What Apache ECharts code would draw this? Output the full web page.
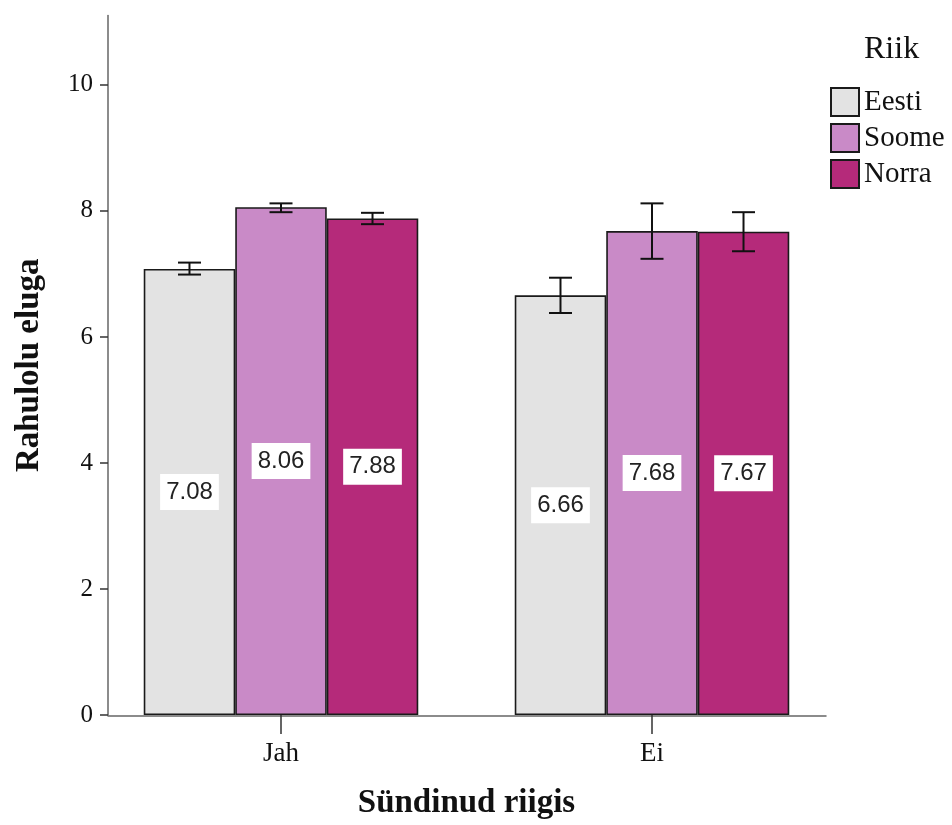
<!DOCTYPE html>
<html>
<head>
<meta charset="utf-8">
<script src="https://cdn.jsdelivr.net/npm/echarts@6/dist/echarts.min.js"></script>
<style>html,body{margin:0;padding:0;background:#fff}#c{width:952px;height:825px}</style>
</head>
<body>
<div id="c"></div>
<script>
const categories = ['Jah', 'Ei'];
const seriesNames = ['Eesti', 'Soome', 'Norra'];
const eesti = [7.08, 6.66];
const soome = [8.06, 7.68];
const norra = [7.88, 7.67];
const eestiLow = [6.99, 6.38];
const eestiHigh = [7.18, 6.94];
const soomeLow = [7.98, 7.24];
const soomeHigh = [8.12, 8.12];
const norraLow = [7.79, 7.36];
const norraHigh = [7.97, 7.98];
const yTicks = [0, 2, 4, 6, 8, 10];

const colors = ['#e3e3e3', '#c98ac7', '#b52a7a'];
const values = [eesti, soome, norra];
const lows = [eestiLow, soomeLow, norraLow];
const highs = [eestiHigh, soomeHigh, norraHigh];
const CAT_GAP = 0.26;
const serif = 'Liberation Serif';

const chart = echarts.init(document.getElementById('c'));

const barSeries = seriesNames.map((n, k) => ({
  name: n,
  type: 'bar',
  xAxisIndex: 0, yAxisIndex: 0,
  data: values[k],
  barGap: '0%',
  barCategoryGap: (CAT_GAP * 100) + '%',
  itemStyle: { color: colors[k], borderColor: '#1a1a1a', borderWidth: 1.6 },
  label: {
    show: true, position: 'inside',
    formatter: p => p.value.toFixed(2),
    backgroundColor: '#fff', color: '#222',
    fontFamily: 'Liberation Sans', fontSize: 24,
    padding: [6, 6]
  },
  emphasis: { disabled: true },
  z: 2
}));

const errSeries = seriesNames.map((n, k) => ({
  name: n + ' CI',
  type: 'custom',
  xAxisIndex: 0, yAxisIndex: 0,
  data: categories.map((c, i) => [i, lows[k][i], highs[k][i]]),
  encode: { x: 0, y: [1, 2] },
  z: 5,
  silent: true,
  renderItem: function (params, api) {
    const cat = api.value(0);
    const lo = api.coord([cat, api.value(1)]);
    const hi = api.coord([cat, api.value(2)]);
    const band = api.size([1, 0])[0];
    const bw = band * (1 - CAT_GAP) / 3;
    const x = lo[0] + (k - 1) * bw;
    const half = 11.5;
    const st = { stroke: '#111', lineWidth: 2 };
    return {
      type: 'group',
      children: [
        { type: 'line', shape: { x1: x, y1: lo[1], x2: x, y2: hi[1] }, style: st },
        { type: 'line', shape: { x1: x - half, y1: lo[1], x2: x + half, y2: lo[1] }, style: st },
        { type: 'line', shape: { x1: x - half, y1: hi[1], x2: x + half, y2: hi[1] }, style: st }
      ]
    };
  }
}));

const option = {
  backgroundColor: '#fff',
  animation: false,
  title: {
    text: 'Riik', left: 859, top: 29,
    textStyle: { fontFamily: serif, fontSize: 32, fontWeight: 'normal', color: '#111' }
  },
  legend: {
    data: seriesNames,
    orient: 'vertical', left: 830, top: 87,
    padding: 0,
    itemWidth: 28, itemHeight: 28, itemGap: 6,
    icon: 'rect',
    selectedMode: false,
    textStyle: { fontFamily: serif, fontSize: 29, color: '#111', lineHeight: 28 }
  },
  grid: [
    { left: 95.5, right: 114.5, top: 15.6, bottom: 109 },
    { left: 108, right: 126, top: 15.6, bottom: 109 }
  ],
  xAxis: [
    {
      type: 'category', gridIndex: 0, data: categories,
      axisLine: { show: false },
      axisTick: { show: true, alignWithLabel: true, length: 19, lineStyle: { color: '#333', width: 1.5 } },
      axisLabel: { fontFamily: serif, fontSize: 27, color: '#111', margin: 25 },
      name: 'Sündinud riigis', nameLocation: 'middle', nameGap: 72,
      nameTextStyle: { fontFamily: serif, fontSize: 33, fontWeight: 'bold', color: '#111' }
    },
    {
      type: 'value', gridIndex: 1, min: 0, max: 1,
      axisLine: { show: true, lineStyle: { color: '#666', width: 1.5 } },
      axisTick: { show: false }, axisLabel: { show: false }, splitLine: { show: false }
    }
  ],
  yAxis: [
    {
      type: 'value', gridIndex: 0, min: 0, max: 11.1, interval: 2,
      offset: -12.5,
      axisLine: { show: true, lineStyle: { color: '#666', width: 1.5 } },
      axisTick: { show: true, length: 8, customValues: yTicks, lineStyle: { color: '#333', width: 1.5 } },
      axisLabel: {
        fontFamily: serif, fontSize: 25, color: '#111', margin: 15,
        customValues: yTicks
      },
      splitLine: { show: false },
      name: 'Rahulolu eluga', nameLocation: 'middle', nameGap: 62,
      nameTextStyle: { fontFamily: serif, fontSize: 33, fontWeight: 'bold', color: '#111' }
    },
    {
      type: 'value', gridIndex: 1, show: false, min: 0, max: 1
    }
  ],
  series: barSeries.concat(errSeries)
};
chart.setOption(option);
</script>
</body>
</html>
